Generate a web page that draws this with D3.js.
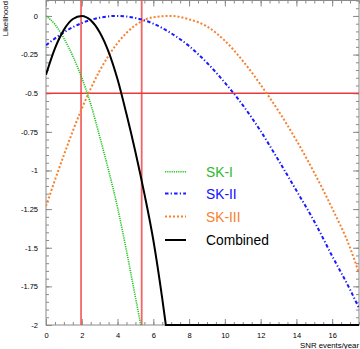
<!DOCTYPE html>
<html><head><meta charset="utf-8">
<script src="https://cdn.jsdelivr.net/npm/d3@7"></script>
<style>body{margin:0;background:#fff}svg{display:block}text{font-family:"Liberation Sans",Arial,sans-serif}</style>
</head><body>
<script>
// ---- data ----
const seriesNames = ["SK-I", "SK-II", "SK-III", "Combined"];
const skI_x = [0, 0.5, 1, 1.5, 2, 2.5, 3, 3.5, 4, 4.5, 5, 5.3];
const skI_y = [0, -0.055, -0.145, -0.26, -0.40, -0.57, -0.78, -1.0, -1.24, -1.52, -1.82, -2];
const skII_x = [0, 1, 2, 3, 3.95, 5, 6, 7, 8, 9, 10, 11, 12, 13, 14, 15, 16, 17, 17.5];
const skII_y = [-0.19, -0.106, -0.046, -0.011, 0, -0.013, -0.05, -0.112, -0.195, -0.303, -0.432, -0.577, -0.745, -0.934, -1.13, -1.33, -1.554, -1.771, -1.891];
const skIII_x = [0, 1, 2, 3, 4, 5, 6, 7, 8, 9, 10, 11, 12, 13, 14, 15, 16, 17, 17.5];
const skIII_y = [-1.23, -0.90, -0.60, -0.355, -0.175, -0.06, -0.008, 0, -0.022, -0.068, -0.16, -0.29, -0.445, -0.615, -0.805, -1.015, -1.245, -1.5, -1.665];
const comb_x = [0, 0.5, 1, 1.5, 2, 2.5, 3, 3.5, 4, 4.5, 5, 5.5, 6, 6.5, 6.7, 10, 17.5];
const comb_y = [-0.38, -0.21, -0.09, -0.02, 0, -0.028, -0.105, -0.232, -0.41, -0.635, -0.88, -1.15, -1.45, -1.83, -2, -2, -2];
const redV = [1.96, 5.35];
const redH = [-0.5];
const xTicks = [0, 2, 4, 6, 8, 10, 12, 14, 16];
const yTicks = [0, -0.25, -0.5, -0.75, -1, -1.25, -1.5, -1.75, -2];
const yTickLabels = ["0", "-0.25", "-0.5", "-0.75", "-1", "-1.25", "-1.5", "-1.75", "-2"];
const xLabel = "SNR events/year";
const yLabel = "Likelihood";

// ---- drawing ----
const W = 360, H = 349;
const L = 46, R = 359, T = 0.5, B = 325;
const yMin = -2;
const svg = d3.select("body").append("svg").attr("width", W).attr("height", H);
const x = d3.scaleLinear().domain([0, 17.5]).range([L, R]);
const y = d3.scaleLinear().domain([yMin, 0.1]).range([B, T]);

svg.append("defs").append("clipPath").attr("id", "clip")
  .append("rect").attr("x", L).attr("y", T - 1).attr("width", R - L).attr("height", B - T + 2.2);

const frameCol = "#8a8a8a";
const xMinor = d3.range(0, 17.51, 0.5);
const yMinor = d3.range(-2, 0.1001, 0.05).map(v => +v.toFixed(2));
function ax(gen, tr) {
  const g = svg.append("g").attr("transform", tr).call(gen);
  g.select(".domain").remove();
  g.selectAll("line").attr("stroke", frameCol);
  return g;
}
ax(d3.axisBottom(x).tickValues(xMinor).tickSize(-3).tickFormat(""), `translate(0,${B})`);
ax(d3.axisTop(x).tickValues(xMinor).tickSize(-3).tickFormat(""), `translate(0,${T})`);
ax(d3.axisTop(x).tickValues(xTicks).tickSize(-6).tickFormat(""), `translate(0,${T})`);
const gx = ax(d3.axisBottom(x).tickValues(xTicks).tickSize(-6).tickPadding(6).tickFormat(d3.format("d")), `translate(0,${B})`);
gx.selectAll("text").attr("font-size", 7.5).attr("fill", "#000").attr("dy", "0.9em")
  .style("font-family", '"Liberation Sans",Arial,sans-serif');

ax(d3.axisLeft(y).tickValues(yMinor).tickSize(-3).tickFormat(""), `translate(${L},0)`);
ax(d3.axisRight(y).tickValues(yMinor).tickSize(-3).tickFormat(""), `translate(${R},0)`);
ax(d3.axisRight(y).tickValues(yTicks).tickSize(-6).tickFormat(""), `translate(${R},0)`);
const gy = ax(d3.axisLeft(y).tickValues(yTicks).tickSize(-6).tickPadding(8)
  .tickFormat((d, i) => yTickLabels[i]), `translate(${L},0)`);
gy.selectAll("text").attr("font-size", 7.5).attr("fill", "#000")
  .style("font-family", '"Liberation Sans",Arial,sans-serif');

svg.append("rect").attr("x", L).attr("y", T).attr("width", R - L).attr("height", B - T)
  .attr("fill", "none").attr("stroke", frameCol).attr("stroke-width", 1);

const red = svg.append("g").attr("clip-path", "url(#clip)");
red.selectAll(".v").data(redV).enter().append("line")
  .attr("x1", d => x(d)).attr("x2", d => x(d)).attr("y1", T).attr("y2", B)
  .attr("stroke", "#f04a4a").attr("stroke-width", 1.8).attr("stroke-opacity", 0.85);
red.selectAll(".h").data(redH).enter().append("line")
  .attr("x1", L).attr("x2", R).attr("y1", d => y(d)).attr("y2", d => y(d))
  .attr("stroke", "#e83a3a").attr("stroke-width", 1.4);

const series = [
  { name: seriesNames[0], xs: skI_x, ys: skI_y, color: "#22c322", text: "#2db82d", w: 1.6, dash: "1.2,1" },
  { name: seriesNames[1], xs: skII_x, ys: skII_y, color: "#1a1aff", text: "#1010ff", w: 2, dash: "3.5,2.2,1.2,2.2" },
  { name: seriesNames[2], xs: skIII_x, ys: skIII_y, color: "#f7812f", text: "#f7812f", w: 2, dash: "2,2" },
  { name: seriesNames[3], xs: comb_x, ys: comb_y, color: "#000", text: "#000", w: 2, dash: null }
];
const smooth = d3.line().x(d => x(d[0])).y(d => y(d[1])).curve(d3.curveMonotoneX);
const straight = d3.line().x(d => x(d[0])).y(d => y(d[1]));
const cg = svg.append("g").attr("clip-path", "url(#clip)");
series.forEach(s => {
  const pts = s.xs.map((v, i) => [v, s.ys[i]]);
  const k = pts.findIndex(p => p[1] <= yMin);
  const curvePart = k >= 0 ? pts.slice(0, k + 1) : pts;
  const flatPart = k >= 0 ? pts.slice(k) : [];
  let d = smooth(curvePart);
  if (flatPart.length > 1) d += straight(flatPart).replace(/^M[^L]*/, "");
  cg.append("path").attr("d", d).attr("fill", "none")
    .attr("stroke", s.color).attr("stroke-width", s.w)
    .attr("stroke-dasharray", s.dash).attr("stroke-linejoin", "miter");
});

const lg = svg.append("g");
const legY = [171.7, 193.5, 216.5, 240];
series.forEach((s, i) => {
  lg.append("line").attr("x1", 165).attr("x2", 186).attr("y1", legY[i]).attr("y2", legY[i])
    .attr("stroke", s.color).attr("stroke-width", s.w).attr("stroke-dasharray", s.dash);
  lg.append("text").attr("x", 206).attr("y", legY[i] + 5).attr("font-size", 13.8)
    .attr("fill", s.text).text(s.name);
});

svg.append("text").attr("x", R).attr("y", 348).attr("text-anchor", "end")
  .attr("font-size", 7.8).attr("fill", "#000").text(xLabel);
svg.append("text").attr("transform", "translate(7.5,1) rotate(-90)").attr("text-anchor", "end")
  .attr("font-size", 7.8).attr("fill", "#000").text(yLabel);
</script>
</body></html>
